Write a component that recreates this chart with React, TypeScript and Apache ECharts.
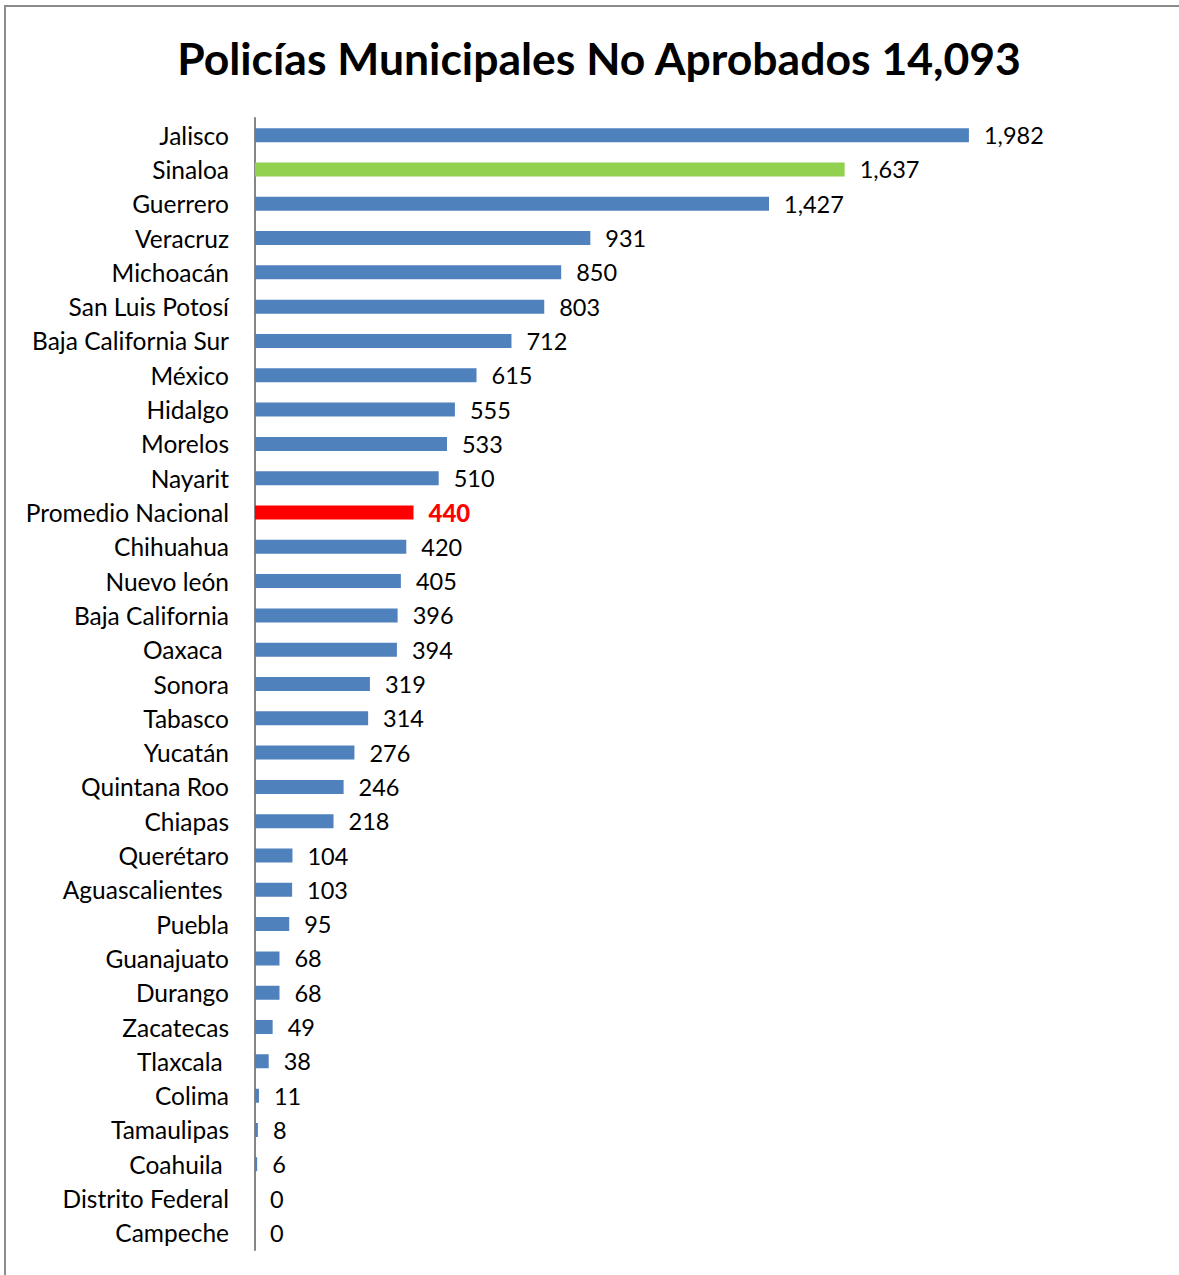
import React, { useEffect, useRef } from "react";
import * as echarts from "echarts";

const categories = [
  "Jalisco", "Sinaloa", "Guerrero", "Veracruz", "Michoacán", "San Luis Potosí",
  "Baja California Sur", "México", "Hidalgo", "Morelos", "Nayarit", "Promedio Nacional",
  "Chihuahua", "Nuevo león", "Baja California", "Oaxaca ", "Sonora", "Tabasco",
  "Yucatán", "Quintana Roo", "Chiapas", "Querétaro", "Aguascalientes ", "Puebla",
  "Guanajuato", "Durango", "Zacatecas", "Tlaxcala ", "Colima", "Tamaulipas",
  "Coahuila ", "Distrito Federal", "Campeche",
];
const values = [
  1982, 1637, 1427, 931, 850, 803, 712, 615, 555, 533, 510, 440,
  420, 405, 396, 394, 319, 314, 276, 246, 218, 104, 103, 95,
  68, 68, 49, 38, 11, 8, 6, 0, 0,
];
const titleText = "Policías Municipales No Aprobados 14,093";

const BLUE = "#4F81BD";
const GREEN = "#92D050";
const RED = "#FF0000";
const FONT = "Lato";

export default function App() {
  const ref = useRef<HTMLDivElement>(null);
  useEffect(() => {
    document.body.style.margin = "0";
    const chart = echarts.init(ref.current!, null, { renderer: "svg" });
    const data = values.map((v, i) => {
      const name = categories[i];
      let color = BLUE;
      let label: any = undefined;
      if (name === "Sinaloa") color = GREEN;
      if (name === "Promedio Nacional") {
        color = RED;
        label = { color: RED, fontWeight: 900, fontFamily: FONT, fontSize: 24 };
      }
      return { value: v, itemStyle: { color }, label };
    });
    chart.setOption({
      animation: false,
      backgroundColor: "#ffffff",
      title: {
        text: titleText,
        left: 594,
        textAlign: "center",
        top: 30,
        textStyle: { fontFamily: FONT, fontSize: 44.5, fontWeight: "bold", color: "#000" },
      },
      graphic: [
        {
          type: "rect",
          shape: { x: 5, y: 6, width: 1400, height: 1400 },
          style: { fill: "none", stroke: "#8c8c8c", lineWidth: 2 },
          silent: true,
        },
      ],
      grid: { left: 255, top: 118, height: 1132, width: 2200 * 0.3602 },
      xAxis: {
        type: "value",
        min: 0,
        max: 2200,
        show: false,
      },
      yAxis: {
        type: "category",
        inverse: true,
        data: categories,
        axisLine: { show: true, lineStyle: { color: "#868686", width: 2 } },
        axisTick: { show: false },
        axisLabel: {
          margin: 26,
          fontFamily: FONT,
          fontSize: 24.5,
          color: "#000",
        },
      },
      series: [
        {
          type: "bar",
          data,
          barWidth: 14,
          label: {
            show: true,
            position: "right",
            distance: 15,
            fontFamily: FONT,
            fontSize: 23.5,
            color: "#000",
            formatter: (p: any) => Number(p.value).toLocaleString("en-US"),
          },
        },
      ],
    });
    return () => chart.dispose();
  }, []);
  return <div ref={ref} style={{ width: 1179, height: 1275 }} />;
}
